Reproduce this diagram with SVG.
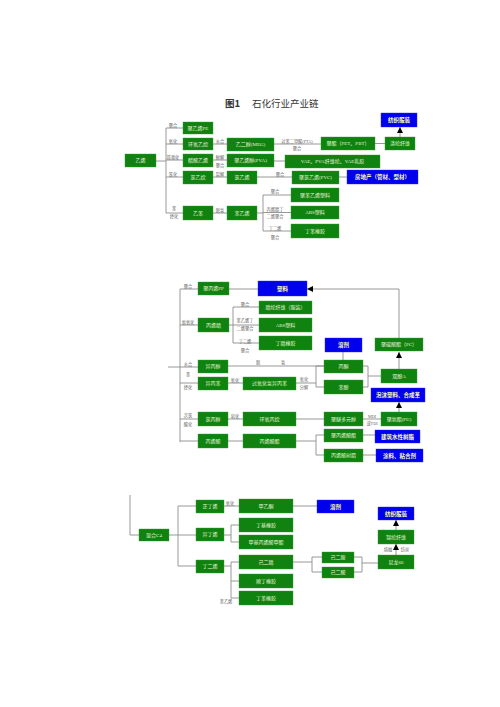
<svg xmlns="http://www.w3.org/2000/svg" width="500" height="707" viewBox="0 0 500 707">
<defs>
<style>
.g{fill:#108210;stroke:#3a9a3a;stroke-width:0.4}
.b{fill:#0000ee;stroke:#3030ff;stroke-width:0.4}
.t{font-family:"Liberation Serif","Noto Sans CJK SC",serif;font-size:5px;fill:#e6f4d6;text-anchor:middle;dominant-baseline:central}
.bt{font-family:"Noto Sans CJK SC",sans-serif;font-size:5.5px;font-weight:bold;fill:#ffffb0;text-anchor:middle;dominant-baseline:central}
.l{font-family:"Liberation Serif","Noto Sans CJK SC",serif;font-size:4.2px;fill:#666;text-anchor:middle;dominant-baseline:central}
.c{stroke:#8c8c8c;stroke-width:0.9;fill:none}
.a{stroke:#8c8c8c;stroke-width:0.9;fill:none;marker-end:url(#arr)}
.ti{font-family:"Noto Sans CJK SC",sans-serif;font-size:9.5px;fill:#333}
</style>
<marker id="arr" markerUnits="userSpaceOnUse" markerWidth="6" markerHeight="6" refX="6" refY="3" orient="auto">
<path d="M0,0 L6,3 L0,6 z" fill="#000"/>
</marker>
</defs>
<rect width="500" height="707" fill="#fff"/>
<text class="ti" x="225" y="107" font-weight="bold">图1</text>
<text class="ti" x="252" y="107">石化行业产业链</text>

<g id="connectors">
<!-- top -->
<path class="c" d="M156,161 H166 M166,128 V213 M166,128 H183 M166,144 H183 M166,160 H183 M166,177 H183 M166,213 H183"/>
<path class="c" d="M213,144 H227 M213,160 H227 M213,177 H227 M213,213 H227"/>
<path class="c" d="M274,144 H321 M375,143.5 H385 M274,161 H285 M257,177 H292 M339,177 H347"/>
<path class="a" d="M400,137 V127"/>
<path class="c" d="M257,213 H263 M263,195 V231 M263,195 H291 M263,212.5 H291 M263,231 H291"/>
<!-- middle -->
<path class="c" d="M180,289 V442 M168,367 H180 M180,289 H198 M229,289 H258"/>
<path class="c" d="M180,325 H198 M229,325 H233 M233,307 V343 M233,307 H259 M233,325 H259 M233,343 H259"/>
<path class="c" d="M180,367 H198 M228,366 H324"/>
<path class="c" d="M180,383 H198 M228,383 H243 M296,383 H316 M316,366 V387 M316,366 H324 M316,387 H324"/>
<path class="c" d="M343,352 V360 M363,366 H368 M363,387 H368 M368,366 V387 M368,376 H381"/>
<path class="a" d="M399,369 V352"/>
<path class="a" d="M399,338 V289 H307"/>
<path class="c" d="M180,419 H198 M228,419 H243 M296,419 H324 M363,419 H381"/>
<path class="a" d="M399,412 V402"/>
<path class="c" d="M180,441 H198 M228,441 H243 M296,441 H316 M316,435 V455 M316,435 H324 M316,455 H324 M363,435 H375 M363,455 H376"/>
<!-- bottom -->
<path class="c" d="M130,495 V535 H139 M169,535 H196 M178,506 V566 M178,506 H196 M178,566 H196"/>
<path class="c" d="M224,506 H239 M293,506 H317"/>
<path class="c" d="M231,525 V542 M231,525 H239 M231,542 H239 M224,535 H231"/>
<path class="c" d="M224,566 H231 M231,562 V598 M231,562 H239 M231,581 H239 M231,598 H239"/>
<path class="c" d="M293,562 H312 M312,557 V572 M312,557 H322 M312,572 H322 M354,557 H362 M354,572 H362 M362,557 V572 M362,563 H378"/>
<path class="a" d="M396,555 V544"/>
<path class="a" d="M396,530 V520"/>
</g>

<g id="labels">
<text class="l" x="173" y="125">聚合</text>
<text class="l" x="173" y="141">氧化</text>
<text class="l" x="173" y="157">羰基化</text>
<text class="l" x="173" y="174">氯化</text>
<text class="l" x="174" y="208">苯</text>
<text class="l" x="174" y="216">烃化</text>
<text class="l" x="220" y="141">水合</text>
<text class="l" x="220" y="157">醇解</text>
<text class="l" x="220" y="165">聚合</text>
<text class="l" x="220" y="174">裂解</text>
<text class="l" x="220" y="210">脱氢</text>
<text class="l" x="297" y="141">对苯二甲酸(PTA)</text>
<text class="l" x="297" y="148">聚合</text>
<text class="l" x="280" y="174">聚合</text>
<text class="l" x="275" y="191">聚合</text>
<text class="l" x="275" y="209">丙烯腈丁</text>
<text class="l" x="275" y="216">二烯聚合</text>
<text class="l" x="275" y="228">丁二烯</text>
<text class="l" x="275" y="237">聚合</text>

<text class="l" x="188" y="286">聚合</text>
<text class="l" x="188" y="322">氨氧化</text>
<text class="l" x="245" y="304">聚合</text>
<text class="l" x="245" y="320">苯乙烯丁</text>
<text class="l" x="245" y="328">二烯聚合</text>
<text class="l" x="245" y="341">丁二烯</text>
<text class="l" x="245" y="350">聚合</text>
<text class="l" x="188" y="364">水合</text>
<text class="l" x="258" y="362">脱</text>
<text class="l" x="283" y="362">氢</text>
<text class="l" x="188" y="374">苯</text>
<text class="l" x="188" y="387">烃化</text>
<text class="l" x="235" y="380">氧化</text>
<text class="l" x="304" y="379">氧化</text>
<text class="l" x="304" y="387">分解</text>
<text class="l" x="188" y="415">次氯</text>
<text class="l" x="188" y="424">酸化</text>
<text class="l" x="235" y="416">皂化</text>
<text class="l" x="372" y="416">MDI</text>
<text class="l" x="372" y="423">或TDI</text>

<text class="l" x="230" y="503">氧化</text>
<text class="l" x="388" y="549">熔融</text>
<text class="l" x="405" y="549">纺丝</text>
<text class="l" x="226" y="601">苯乙烯</text>
</g>

<!-- top nodes -->
<g id="n_yixi"><rect class="g" x="125" y="154" width="31" height="13"/><text class="t" x="140.5" y="160.5">乙烯</text></g>
<g id="n_pe"><rect class="g" x="183" y="122" width="30" height="12"/><text class="t" x="198" y="128">聚乙烯PE</text></g>
<g id="n_hyyw"><rect class="g" x="183" y="138" width="30" height="12"/><text class="t" x="198" y="144">环氧乙烷</text></g>
<g id="n_csyx"><rect class="g" x="183" y="154" width="30" height="13"/><text class="t" x="198" y="160.5">醋酸乙烯</text></g>
<g id="n_lyw"><rect class="g" x="183" y="171" width="30" height="13"/><text class="t" x="198" y="177.5">氯乙烷</text></g>
<g id="n_yb"><rect class="g" x="183" y="206" width="30" height="14"/><text class="t" x="198" y="213">乙苯</text></g>
<g id="n_meg"><rect class="g" x="227" y="138" width="47" height="13"/><text class="t" x="250.5" y="144.5">乙二醇(MEG)</text></g>
<g id="n_pva"><rect class="g" x="227" y="154" width="47" height="13"/><text class="t" x="250.5" y="160.5">聚乙烯醇(PVA)</text></g>
<g id="n_lyx"><rect class="g" x="227" y="171" width="30" height="13"/><text class="t" x="242" y="177.5">氯乙烯</text></g>
<g id="n_byx"><rect class="g" x="227" y="206" width="30" height="14"/><text class="t" x="242" y="213">苯乙烯</text></g>
<g id="n_pet"><rect class="g" x="321" y="137" width="54" height="13"/><text class="t" x="348" y="143.5">聚酯（PET、PBT）</text></g>
<g id="n_dl"><rect class="g" x="385" y="137" width="30" height="13"/><text class="t" x="400" y="143.5">涤纶纤维</text></g>
<g id="n_fz1"><rect class="b" x="381" y="113" width="36" height="14"/><text class="bt" x="399" y="120">纺织服装</text></g>
<g id="n_vae"><rect class="g" x="285" y="155" width="95" height="13"/><text class="t" x="332.5" y="161.5">VAE、PVA纤维纶、VAE乳胶</text></g>
<g id="n_pvc"><rect class="g" x="292" y="171" width="47" height="13"/><text class="t" x="315.5" y="177.5">聚氯乙烯(PVC)</text></g>
<g id="n_fdc"><rect class="b" x="347" y="170" width="71" height="14"/><text class="bt" x="382.5" y="177">房地产（管材、型材）</text></g>
<g id="n_ps"><rect class="g" x="291" y="188" width="48" height="14"/><text class="t" x="315" y="195">聚苯乙烯塑料</text></g>
<g id="n_abs1"><rect class="g" x="291" y="206" width="48" height="13"/><text class="t" x="315" y="212.5">ABS塑料</text></g>
<g id="n_dbxj1"><rect class="g" x="291" y="224" width="48" height="14"/><text class="t" x="315" y="231">丁苯橡胶</text></g>

<!-- middle nodes -->
<g id="n_pp"><rect class="g" x="198" y="282" width="31" height="13"/><text class="t" x="213.5" y="288.5">聚丙烯PP</text></g>
<g id="n_sl"><rect class="b" x="258" y="281" width="49" height="15"/><text class="bt" x="282.5" y="288.5">塑料</text></g>
<g id="n_bxj"><rect class="g" x="198" y="318" width="31" height="14"/><text class="t" x="213.5" y="325">丙烯腈</text></g>
<g id="n_jl"><rect class="g" x="259" y="301" width="53" height="13"/><text class="t" x="285.5" y="307.5">腈纶纤维（服装）</text></g>
<g id="n_abs2"><rect class="g" x="259" y="318" width="53" height="14"/><text class="t" x="285.5" y="325">ABS塑料</text></g>
<g id="n_djxj"><rect class="g" x="259" y="336" width="53" height="14"/><text class="t" x="285.5" y="343">丁腈橡胶</text></g>
<g id="n_ybc"><rect class="g" x="198" y="360" width="30" height="13"/><text class="t" x="213" y="366.5">异丙醇</text></g>
<g id="n_ybb"><rect class="g" x="198" y="377" width="30" height="13"/><text class="t" x="213" y="383.5">异丙苯</text></g>
<g id="n_ghq"><rect class="g" x="243" y="377" width="53" height="13"/><text class="t" x="269.5" y="383.5">过氧化氢异丙苯</text></g>
<g id="n_rj1"><rect class="b" x="325" y="338" width="37" height="14"/><text class="bt" x="343.5" y="345">溶剂</text></g>
<g id="n_bt"><rect class="g" x="324" y="360" width="39" height="13"/><text class="t" x="343.5" y="366.5">丙酮</text></g>
<g id="n_bf"><rect class="g" x="324" y="380" width="39" height="14"/><text class="t" x="343.5" y="387">苯酚</text></g>
<g id="n_pc"><rect class="g" x="375" y="338" width="48" height="13"/><text class="t" x="399" y="344.5">聚碳酸酯（PC）</text></g>
<g id="n_sfa"><rect class="g" x="381" y="369" width="36" height="14"/><text class="t" x="399" y="376">双酚A</text></g>
<g id="n_lbc"><rect class="g" x="198" y="412" width="30" height="14"/><text class="t" x="213" y="419">氯丙醇</text></g>
<g id="n_hybw"><rect class="g" x="243" y="412" width="53" height="14"/><text class="t" x="269.5" y="419">环氧丙烷</text></g>
<g id="n_jm"><rect class="g" x="324" y="412" width="39" height="14"/><text class="t" x="343.5" y="419">聚醚多元醇</text></g>
<g id="n_pu"><rect class="g" x="381" y="412" width="36" height="14"/><text class="t" x="399" y="419">聚氨酯(PU)</text></g>
<g id="n_pm"><rect class="b" x="371" y="388" width="54" height="14"/><text class="bt" x="398" y="395">泡沫塑料、合成革</text></g>
<g id="n_bxs"><rect class="g" x="198" y="434" width="30" height="14"/><text class="t" x="213" y="441">丙烯酸</text></g>
<g id="n_bxsz"><rect class="g" x="243" y="434" width="53" height="14"/><text class="t" x="269.5" y="441">丙烯酸酯</text></g>
<g id="n_jbxsz"><rect class="g" x="324" y="429" width="39" height="13"/><text class="t" x="343.5" y="435.5">聚丙烯酸酯</text></g>
<g id="n_bxssz"><rect class="g" x="324" y="449" width="39" height="13"/><text class="t" x="343.5" y="455.5">丙烯酸树脂</text></g>
<g id="n_jz"><rect class="b" x="375" y="430" width="45" height="13"/><text class="bt" x="397.5" y="436.5">建筑水性树脂</text></g>
<g id="n_tl"><rect class="b" x="376" y="449" width="47" height="13"/><text class="bt" x="399.5" y="455.5">涂料、粘合剂</text></g>

<!-- bottom nodes -->
<g id="n_c4"><rect class="g" x="139" y="529" width="30" height="12"/><text class="t" x="154" y="535">混合C4</text></g>
<g id="n_zdx"><rect class="g" x="196" y="500" width="28" height="13"/><text class="t" x="210" y="506.5">正丁烯</text></g>
<g id="n_ydx"><rect class="g" x="196" y="528" width="28" height="13"/><text class="t" x="210" y="534.5">异丁烯</text></g>
<g id="n_dex"><rect class="g" x="196" y="560" width="28" height="13"/><text class="t" x="210" y="566.5">丁二烯</text></g>
<g id="n_myt"><rect class="g" x="239" y="499" width="54" height="14"/><text class="t" x="266" y="506">甲乙酮</text></g>
<g id="n_rj2"><rect class="b" x="317" y="500" width="37" height="13"/><text class="bt" x="335.5" y="506.5">溶剂</text></g>
<g id="n_djxj2"><rect class="g" x="239" y="518" width="54" height="14"/><text class="t" x="266" y="525">丁基橡胶</text></g>
<g id="n_mma"><rect class="g" x="239" y="535" width="54" height="14"/><text class="t" x="266" y="542">甲基丙烯酸甲酯</text></g>
<g id="n_yej"><rect class="g" x="239" y="555" width="54" height="14"/><text class="t" x="266" y="562">己二腈</text></g>
<g id="n_sdxj"><rect class="g" x="239" y="574" width="54" height="14"/><text class="t" x="266" y="581">顺丁橡胶</text></g>
<g id="n_dbxj2"><rect class="g" x="239" y="591" width="54" height="14"/><text class="t" x="266" y="598">丁苯橡胶</text></g>
<g id="n_yea"><rect class="g" x="322" y="552" width="32" height="11"/><text class="t" x="338" y="557.5">己二胺</text></g>
<g id="n_yes"><rect class="g" x="322" y="567" width="32" height="11"/><text class="t" x="338" y="572.5">己二酸</text></g>
<g id="n_nl"><rect class="g" x="378" y="555" width="36" height="14"/><text class="t" x="396" y="562">尼龙66</text></g>
<g id="n_jlxw"><rect class="g" x="378" y="530" width="36" height="14"/><text class="t" x="396" y="537">锦纶纤维</text></g>
<g id="n_fz2"><rect class="b" x="378" y="507" width="36" height="13"/><text class="bt" x="396" y="513.5">纺织服装</text></g>
</svg>
